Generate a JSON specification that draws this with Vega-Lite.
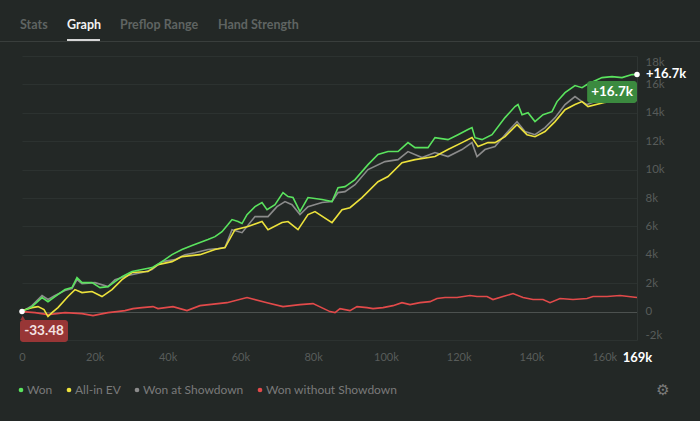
{
  "$schema": "https://vega.github.io/schema/vega-lite/v6.json",
  "width": 615,
  "height": 284,
  "autosize": "none",
  "padding": {"left": 22, "top": 56, "right": 63, "bottom": 81},
  "background": "#232826",
  "config": {
    "view": {"stroke": null},
    "font": "Lato",
    "axis": {"labelFont": "Lato"},
    "legend": {"labelFont": "Lato"}
  },
  "resolve": {"axis": {"x": "independent", "y": "independent"}},
  "datasets": {
    "results": [
      {"hands": 0, "chips": 0, "series": "Won without Showdown"},
      {"hands": 3570, "chips": -70, "series": "Won without Showdown"},
      {"hands": 7140, "chips": -210, "series": "Won without Showdown"},
      {"hands": 11820, "chips": -70, "series": "Won without Showdown"},
      {"hands": 16490, "chips": -140, "series": "Won without Showdown"},
      {"hands": 19510, "chips": -280, "series": "Won without Showdown"},
      {"hands": 23630, "chips": -70, "series": "Won without Showdown"},
      {"hands": 26110, "chips": 0, "series": "Won without Showdown"},
      {"hands": 28300, "chips": 70, "series": "Won without Showdown"},
      {"hands": 30500, "chips": 210, "series": "Won without Showdown"},
      {"hands": 32980, "chips": 280, "series": "Won without Showdown"},
      {"hands": 36000, "chips": 350, "series": "Won without Showdown"},
      {"hands": 37370, "chips": 210, "series": "Won without Showdown"},
      {"hands": 41490, "chips": 350, "series": "Won without Showdown"},
      {"hands": 45340, "chips": 70, "series": "Won without Showdown"},
      {"hands": 48910, "chips": 420, "series": "Won without Showdown"},
      {"hands": 56330, "chips": 630, "series": "Won without Showdown"},
      {"hands": 61830, "chips": 990, "series": "Won without Showdown"},
      {"hands": 67330, "chips": 630, "series": "Won without Showdown"},
      {"hands": 71720, "chips": 350, "series": "Won without Showdown"},
      {"hands": 76390, "chips": 490, "series": "Won without Showdown"},
      {"hands": 79970, "chips": 560, "series": "Won without Showdown"},
      {"hands": 84640, "chips": 0, "series": "Won without Showdown"},
      {"hands": 86010, "chips": -70, "series": "Won without Showdown"},
      {"hands": 87390, "chips": 210, "series": "Won without Showdown"},
      {"hands": 90130, "chips": 70, "series": "Won without Showdown"},
      {"hands": 92060, "chips": 350, "series": "Won without Showdown"},
      {"hands": 94810, "chips": 280, "series": "Won without Showdown"},
      {"hands": 96460, "chips": 210, "series": "Won without Showdown"},
      {"hands": 99200, "chips": 280, "series": "Won without Showdown"},
      {"hands": 101950, "chips": 420, "series": "Won without Showdown"},
      {"hands": 104420, "chips": 630, "series": "Won without Showdown"},
      {"hands": 106620, "chips": 490, "series": "Won without Showdown"},
      {"hands": 109370, "chips": 630, "series": "Won without Showdown"},
      {"hands": 112120, "chips": 700, "series": "Won without Showdown"},
      {"hands": 114040, "chips": 920, "series": "Won without Showdown"},
      {"hands": 116240, "chips": 990, "series": "Won without Showdown"},
      {"hands": 119540, "chips": 990, "series": "Won without Showdown"},
      {"hands": 123110, "chips": 1130, "series": "Won without Showdown"},
      {"hands": 125030, "chips": 1060, "series": "Won without Showdown"},
      {"hands": 127780, "chips": 1060, "series": "Won without Showdown"},
      {"hands": 129430, "chips": 850, "series": "Won without Showdown"},
      {"hands": 132180, "chips": 1060, "series": "Won without Showdown"},
      {"hands": 134930, "chips": 1270, "series": "Won without Showdown"},
      {"hands": 137680, "chips": 990, "series": "Won without Showdown"},
      {"hands": 140420, "chips": 850, "series": "Won without Showdown"},
      {"hands": 143170, "chips": 850, "series": "Won without Showdown"},
      {"hands": 145090, "chips": 630, "series": "Won without Showdown"},
      {"hands": 147840, "chips": 920, "series": "Won without Showdown"},
      {"hands": 151410, "chips": 850, "series": "Won without Showdown"},
      {"hands": 155260, "chips": 920, "series": "Won without Showdown"},
      {"hands": 156910, "chips": 1060, "series": "Won without Showdown"},
      {"hands": 160760, "chips": 1060, "series": "Won without Showdown"},
      {"hands": 164330, "chips": 1130, "series": "Won without Showdown"},
      {"hands": 169000, "chips": 990, "series": "Won without Showdown"},

      {"hands": 0, "chips": 0, "series": "Won at Showdown"},
      {"hands": 2750, "chips": 420, "series": "Won at Showdown"},
      {"hands": 5500, "chips": 1130, "series": "Won at Showdown"},
      {"hands": 7140, "chips": 850, "series": "Won at Showdown"},
      {"hands": 9070, "chips": 1130, "series": "Won at Showdown"},
      {"hands": 11820, "chips": 1480, "series": "Won at Showdown"},
      {"hands": 13740, "chips": 1620, "series": "Won at Showdown"},
      {"hands": 15110, "chips": 2250, "series": "Won at Showdown"},
      {"hands": 16490, "chips": 1970, "series": "Won at Showdown"},
      {"hands": 20060, "chips": 2040, "series": "Won at Showdown"},
      {"hands": 23630, "chips": 1760, "series": "Won at Showdown"},
      {"hands": 25560, "chips": 2250, "series": "Won at Showdown"},
      {"hands": 29130, "chips": 2540, "series": "Won at Showdown"},
      {"hands": 32980, "chips": 2750, "series": "Won at Showdown"},
      {"hands": 35720, "chips": 2960, "series": "Won at Showdown"},
      {"hands": 38470, "chips": 3520, "series": "Won at Showdown"},
      {"hands": 42040, "chips": 3660, "series": "Won at Showdown"},
      {"hands": 44790, "chips": 4010, "series": "Won at Showdown"},
      {"hands": 47540, "chips": 4150, "series": "Won at Showdown"},
      {"hands": 51110, "chips": 4370, "series": "Won at Showdown"},
      {"hands": 53860, "chips": 4440, "series": "Won at Showdown"},
      {"hands": 55780, "chips": 4510, "series": "Won at Showdown"},
      {"hands": 57710, "chips": 5770, "series": "Won at Showdown"},
      {"hands": 60460, "chips": 5560, "series": "Won at Showdown"},
      {"hands": 64030, "chips": 6690, "series": "Won at Showdown"},
      {"hands": 67600, "chips": 6690, "series": "Won at Showdown"},
      {"hands": 70070, "chips": 7390, "series": "Won at Showdown"},
      {"hands": 72270, "chips": 7750, "series": "Won at Showdown"},
      {"hands": 74200, "chips": 7530, "series": "Won at Showdown"},
      {"hands": 76390, "chips": 6830, "series": "Won at Showdown"},
      {"hands": 78590, "chips": 7390, "series": "Won at Showdown"},
      {"hands": 82440, "chips": 7680, "series": "Won at Showdown"},
      {"hands": 85190, "chips": 7750, "series": "Won at Showdown"},
      {"hands": 86840, "chips": 8380, "series": "Won at Showdown"},
      {"hands": 88760, "chips": 8450, "series": "Won at Showdown"},
      {"hands": 91510, "chips": 8940, "series": "Won at Showdown"},
      {"hands": 95080, "chips": 10000, "series": "Won at Showdown"},
      {"hands": 99750, "chips": 10560, "series": "Won at Showdown"},
      {"hands": 103330, "chips": 10700, "series": "Won at Showdown"},
      {"hands": 106070, "chips": 11270, "series": "Won at Showdown"},
      {"hands": 109920, "chips": 10850, "series": "Won at Showdown"},
      {"hands": 113490, "chips": 11200, "series": "Won at Showdown"},
      {"hands": 117060, "chips": 10920, "series": "Won at Showdown"},
      {"hands": 120910, "chips": 11410, "series": "Won at Showdown"},
      {"hands": 123660, "chips": 11900, "series": "Won at Showdown"},
      {"hands": 125030, "chips": 10920, "series": "Won at Showdown"},
      {"hands": 127230, "chips": 11410, "series": "Won at Showdown"},
      {"hands": 129980, "chips": 11620, "series": "Won at Showdown"},
      {"hands": 132730, "chips": 12460, "series": "Won at Showdown"},
      {"hands": 136030, "chips": 13380, "series": "Won at Showdown"},
      {"hands": 138220, "chips": 12680, "series": "Won at Showdown"},
      {"hands": 140970, "chips": 12460, "series": "Won at Showdown"},
      {"hands": 143720, "chips": 12960, "series": "Won at Showdown"},
      {"hands": 146470, "chips": 13660, "series": "Won at Showdown"},
      {"hands": 149220, "chips": 14580, "series": "Won at Showdown"},
      {"hands": 151960, "chips": 15140, "series": "Won at Showdown"},
      {"hands": 153890, "chips": 14790, "series": "Won at Showdown"},
      {"hands": 155260, "chips": 14580, "series": "Won at Showdown"},
      {"hands": 158830, "chips": 14930, "series": "Won at Showdown"},
      {"hands": 162960, "chips": 15070, "series": "Won at Showdown"},
      {"hands": 169000, "chips": 15210, "series": "Won at Showdown"},

      {"hands": 0, "chips": 0, "series": "All-in EV"},
      {"hands": 820, "chips": 140, "series": "All-in EV"},
      {"hands": 2750, "chips": 280, "series": "All-in EV"},
      {"hands": 4400, "chips": 350, "series": "All-in EV"},
      {"hands": 6050, "chips": 140, "series": "All-in EV"},
      {"hands": 7140, "chips": -350, "series": "All-in EV"},
      {"hands": 8240, "chips": -70, "series": "All-in EV"},
      {"hands": 9890, "chips": 280, "series": "All-in EV"},
      {"hands": 12640, "chips": 1060, "series": "All-in EV"},
      {"hands": 14560, "chips": 1550, "series": "All-in EV"},
      {"hands": 16490, "chips": 1340, "series": "All-in EV"},
      {"hands": 19240, "chips": 1410, "series": "All-in EV"},
      {"hands": 21980, "chips": 1060, "series": "All-in EV"},
      {"hands": 24730, "chips": 1550, "series": "All-in EV"},
      {"hands": 27480, "chips": 2250, "series": "All-in EV"},
      {"hands": 30230, "chips": 2750, "series": "All-in EV"},
      {"hands": 34620, "chips": 2820, "series": "All-in EV"},
      {"hands": 37370, "chips": 3310, "series": "All-in EV"},
      {"hands": 41220, "chips": 3520, "series": "All-in EV"},
      {"hands": 43970, "chips": 3870, "series": "All-in EV"},
      {"hands": 48910, "chips": 4010, "series": "All-in EV"},
      {"hands": 53040, "chips": 4370, "series": "All-in EV"},
      {"hands": 55780, "chips": 4510, "series": "All-in EV"},
      {"hands": 58530, "chips": 5770, "series": "All-in EV"},
      {"hands": 62100, "chips": 5990, "series": "All-in EV"},
      {"hands": 65950, "chips": 6340, "series": "All-in EV"},
      {"hands": 67600, "chips": 5770, "series": "All-in EV"},
      {"hands": 71450, "chips": 6270, "series": "All-in EV"},
      {"hands": 73100, "chips": 6340, "series": "All-in EV"},
      {"hands": 75850, "chips": 5770, "series": "All-in EV"},
      {"hands": 78590, "chips": 6830, "series": "All-in EV"},
      {"hands": 80520, "chips": 7040, "series": "All-in EV"},
      {"hands": 85190, "chips": 6270, "series": "All-in EV"},
      {"hands": 87940, "chips": 7180, "series": "All-in EV"},
      {"hands": 90130, "chips": 7320, "series": "All-in EV"},
      {"hands": 93430, "chips": 8030, "series": "All-in EV"},
      {"hands": 97830, "chips": 9150, "series": "All-in EV"},
      {"hands": 100580, "chips": 9510, "series": "All-in EV"},
      {"hands": 104420, "chips": 10490, "series": "All-in EV"},
      {"hands": 108000, "chips": 10700, "series": "All-in EV"},
      {"hands": 113490, "chips": 10920, "series": "All-in EV"},
      {"hands": 117060, "chips": 11410, "series": "All-in EV"},
      {"hands": 120910, "chips": 11900, "series": "All-in EV"},
      {"hands": 123660, "chips": 12250, "series": "All-in EV"},
      {"hands": 125310, "chips": 11620, "series": "All-in EV"},
      {"hands": 128060, "chips": 11900, "series": "All-in EV"},
      {"hands": 129980, "chips": 11900, "series": "All-in EV"},
      {"hands": 132730, "chips": 12320, "series": "All-in EV"},
      {"hands": 136030, "chips": 13170, "series": "All-in EV"},
      {"hands": 138770, "chips": 12460, "series": "All-in EV"},
      {"hands": 140970, "chips": 12320, "series": "All-in EV"},
      {"hands": 143720, "chips": 12680, "series": "All-in EV"},
      {"hands": 146470, "chips": 13380, "series": "All-in EV"},
      {"hands": 149220, "chips": 14220, "series": "All-in EV"},
      {"hands": 151960, "chips": 14580, "series": "All-in EV"},
      {"hands": 153890, "chips": 14790, "series": "All-in EV"},
      {"hands": 155540, "chips": 14440, "series": "All-in EV"},
      {"hands": 160000, "chips": 14720, "series": "All-in EV"},
      {"hands": 164330, "chips": 14860, "series": "All-in EV"},
      {"hands": 169000, "chips": 14930, "series": "All-in EV"},

      {"hands": 0, "chips": 0, "series": "Won"},
      {"hands": 2750, "chips": 350, "series": "Won"},
      {"hands": 5500, "chips": 990, "series": "Won"},
      {"hands": 7140, "chips": 700, "series": "Won"},
      {"hands": 9070, "chips": 1060, "series": "Won"},
      {"hands": 11820, "chips": 1550, "series": "Won"},
      {"hands": 13740, "chips": 1690, "series": "Won"},
      {"hands": 15110, "chips": 2390, "series": "Won"},
      {"hands": 16490, "chips": 2040, "series": "Won"},
      {"hands": 19240, "chips": 2040, "series": "Won"},
      {"hands": 21430, "chips": 1690, "series": "Won"},
      {"hands": 23630, "chips": 1760, "series": "Won"},
      {"hands": 25560, "chips": 2110, "series": "Won"},
      {"hands": 27480, "chips": 2460, "series": "Won"},
      {"hands": 30230, "chips": 2820, "series": "Won"},
      {"hands": 32980, "chips": 2960, "series": "Won"},
      {"hands": 35720, "chips": 3100, "series": "Won"},
      {"hands": 38470, "chips": 3520, "series": "Won"},
      {"hands": 41220, "chips": 4010, "series": "Won"},
      {"hands": 43970, "chips": 4370, "series": "Won"},
      {"hands": 46720, "chips": 4650, "series": "Won"},
      {"hands": 48910, "chips": 4860, "series": "Won"},
      {"hands": 51110, "chips": 5070, "series": "Won"},
      {"hands": 53040, "chips": 5280, "series": "Won"},
      {"hands": 54960, "chips": 5630, "series": "Won"},
      {"hands": 56610, "chips": 6130, "series": "Won"},
      {"hands": 57710, "chips": 6480, "series": "Won"},
      {"hands": 59360, "chips": 6340, "series": "Won"},
      {"hands": 60460, "chips": 6200, "series": "Won"},
      {"hands": 61830, "chips": 6830, "series": "Won"},
      {"hands": 64030, "chips": 7390, "series": "Won"},
      {"hands": 65950, "chips": 7680, "series": "Won"},
      {"hands": 67330, "chips": 7180, "series": "Won"},
      {"hands": 69520, "chips": 7530, "series": "Won"},
      {"hands": 71720, "chips": 8380, "series": "Won"},
      {"hands": 73100, "chips": 8100, "series": "Won"},
      {"hands": 74470, "chips": 8030, "series": "Won"},
      {"hands": 76390, "chips": 7040, "series": "Won"},
      {"hands": 78590, "chips": 8030, "series": "Won"},
      {"hands": 82440, "chips": 7890, "series": "Won"},
      {"hands": 85190, "chips": 7750, "series": "Won"},
      {"hands": 86840, "chips": 8730, "series": "Won"},
      {"hands": 88760, "chips": 8800, "series": "Won"},
      {"hands": 89580, "chips": 8940, "series": "Won"},
      {"hands": 91510, "chips": 9300, "series": "Won"},
      {"hands": 95080, "chips": 10350, "series": "Won"},
      {"hands": 97830, "chips": 11060, "series": "Won"},
      {"hands": 100580, "chips": 11270, "series": "Won"},
      {"hands": 103330, "chips": 11270, "series": "Won"},
      {"hands": 106070, "chips": 11900, "series": "Won"},
      {"hands": 108000, "chips": 11550, "series": "Won"},
      {"hands": 111570, "chips": 11550, "series": "Won"},
      {"hands": 113490, "chips": 12250, "series": "Won"},
      {"hands": 117060, "chips": 12110, "series": "Won"},
      {"hands": 119810, "chips": 12460, "series": "Won"},
      {"hands": 122560, "chips": 12820, "series": "Won"},
      {"hands": 123660, "chips": 12960, "series": "Won"},
      {"hands": 124480, "chips": 12250, "series": "Won"},
      {"hands": 126410, "chips": 12110, "series": "Won"},
      {"hands": 129160, "chips": 12460, "series": "Won"},
      {"hands": 132730, "chips": 13660, "series": "Won"},
      {"hands": 135480, "chips": 14440, "series": "Won"},
      {"hands": 136300, "chips": 14580, "series": "Won"},
      {"hands": 137400, "chips": 13870, "series": "Won"},
      {"hands": 139050, "chips": 14010, "series": "Won"},
      {"hands": 140970, "chips": 13380, "series": "Won"},
      {"hands": 143170, "chips": 13870, "series": "Won"},
      {"hands": 145640, "chips": 14080, "series": "Won"},
      {"hands": 147020, "chips": 14790, "series": "Won"},
      {"hands": 149220, "chips": 15420, "series": "Won"},
      {"hands": 151960, "chips": 15920, "series": "Won"},
      {"hands": 153890, "chips": 15770, "series": "Won"},
      {"hands": 155260, "chips": 15990, "series": "Won"},
      {"hands": 159380, "chips": 16480, "series": "Won"},
      {"hands": 162130, "chips": 16550, "series": "Won"},
      {"hands": 164880, "chips": 16480, "series": "Won"},
      {"hands": 167630, "chips": 16690, "series": "Won"},
      {"hands": 169000, "chips": 16700, "series": "Won"}
    ],
    "one": [{}]
  },
  "layer": [
    {
      "data": {"name": "results"},
      "mark": {"type": "line", "strokeWidth": 1.6, "clip": false},
      "encoding": {
        "x": {
          "field": "hands",
          "type": "quantitative",
          "scale": {"domain": [0, 169000], "nice": false, "zero": false},
          "axis": {
            "title": null,
            "grid": false,
            "domain": false,
            "ticks": false,
            "values": [0, 20000, 40000, 60000, 80000, 100000, 120000, 140000, 160000, 169000],
            "labelExpr": "datum.value == 0 ? '0' : round(datum.value / 1000) + 'k'",
            "labelFlush": false,
            "labelOverlap": false,
            "labelPadding": 11,
            "labelFontSize": {"condition": {"test": "datum.value == 169000", "value": 13}, "value": 11},
            "labelFontWeight": {"condition": {"test": "datum.value == 169000", "value": "bold"}, "value": "normal"},
            "labelColor": {"condition": {"test": "datum.value == 169000", "value": "#ffffff"}, "value": "#585c5a"}
          }
        },
        "y": {
          "field": "chips",
          "type": "quantitative",
          "scale": {"domain": [-2000, 18000], "nice": false},
          "axis": {
            "title": null,
            "orient": "right",
            "values": [-2000, 0, 2000, 4000, 6000, 8000, 10000, 12000, 14000, 16000, 18000],
            "labelExpr": "datum.value == 0 ? '0' : (datum.value / 1000) + 'k'",
            "labelFlush": true,
            "labelOverlap": false,
            "labelPadding": 8,
            "labelFontSize": 11.5,
            "labelColor": "#585c5a",
            "ticks": false,
            "domain": true,
            "domainColor": "#2f3533",
            "grid": true,
            "gridColor": {"condition": {"test": "datum.value === 0", "value": "#4c514f"}, "value": "#2c3230"}
          }
        },
        "color": {
          "field": "series",
          "type": "nominal",
          "scale": {
            "domain": ["Won", "All-in EV", "Won at Showdown", "Won without Showdown"],
            "range": ["#5ae35e", "#ece23c", "#8b8b8b", "#e24a4a"]
          },
          "legend": {
            "title": null,
            "orient": "none",
            "direction": "horizontal",
            "legendX": -7,
            "legendY": 328,
            "symbolType": "circle",
            "symbolSize": 22,
            "labelOffset": 0,
            "columnPadding": 10,
            "labelFontSize": 12,
            "labelColor": "#7a7a7a",
            "encode": {
              "symbols": {
                "update": {
                  "fill": {"scale": "color", "field": "value"},
                  "strokeWidth": {"value": 0}
                }
              }
            }
          }
        }
      }
    },
    {
      "data": {"name": "one"},
      "mark": {"type": "rule", "color": "#393e3c", "strokeWidth": 1},
      "encoding": {
        "x": {"datum": -6050, "type": "quantitative", "axis": null},
        "x2": {"datum": 186300},
        "y": {"datum": 19021, "type": "quantitative", "axis": null}
      }
    },
    {
      "data": {"name": "one"},
      "mark": {"type": "rule", "color": "#d6d6d6", "strokeWidth": 2},
      "encoding": {
        "x": {"datum": 12370, "type": "quantitative", "axis": null},
        "x2": {"datum": 21430},
        "y": {"datum": 19127, "type": "quantitative", "axis": null}
      }
    },
    {
      "data": {"name": "one"},
      "mark": {"type": "text", "text": "Stats", "align": "left", "baseline": "middle", "fontSize": 12.5, "fontWeight": "bold", "color": "#5f6462"},
      "encoding": {"x": {"datum": -550, "type": "quantitative", "axis": null}, "y": {"datum": 20183, "type": "quantitative", "axis": null}}
    },
    {
      "data": {"name": "one"},
      "mark": {"type": "text", "text": "Graph", "align": "left", "baseline": "middle", "fontSize": 12.5, "fontWeight": "bold", "color": "#f2f2f2"},
      "encoding": {"x": {"datum": 12370, "type": "quantitative", "axis": null}, "y": {"datum": 20183, "type": "quantitative", "axis": null}}
    },
    {
      "data": {"name": "one"},
      "mark": {"type": "text", "text": "Preflop Range", "align": "left", "baseline": "middle", "fontSize": 12.5, "fontWeight": "bold", "color": "#5f6462"},
      "encoding": {"x": {"datum": 26930, "type": "quantitative", "axis": null}, "y": {"datum": 20183, "type": "quantitative", "axis": null}}
    },
    {
      "data": {"name": "one"},
      "mark": {"type": "text", "text": "Hand Strength", "align": "left", "baseline": "middle", "fontSize": 12.5, "fontWeight": "bold", "color": "#5f6462"},
      "encoding": {"x": {"datum": 53860, "type": "quantitative", "axis": null}, "y": {"datum": 20183, "type": "quantitative", "axis": null}}
    },
    {
      "data": {"name": "one"},
      "mark": {"type": "point", "filled": true, "color": "#ffffff", "size": 30, "opacity": 1},
      "encoding": {"x": {"datum": 0, "type": "quantitative", "axis": null}, "y": {"datum": 0, "type": "quantitative", "axis": null}}
    },
    {
      "data": {"name": "one"},
      "mark": {"type": "point", "filled": true, "color": "#ffffff", "size": 30, "opacity": 1},
      "encoding": {"x": {"datum": 169000, "type": "quantitative", "axis": null}, "y": {"datum": 16700, "type": "quantitative", "axis": null}}
    },
    {
      "data": {"name": "one"},
      "mark": {"type": "text", "text": "+16.7k", "align": "left", "baseline": "middle", "dx": 9, "fontSize": 13, "fontWeight": "bold", "color": "#ffffff"},
      "encoding": {"x": {"datum": 169000, "type": "quantitative", "axis": null}, "y": {"datum": 16700, "type": "quantitative", "axis": null}}
    },
    {
      "data": {"name": "one"},
      "mark": {"type": "rect", "color": "#3b8a3f", "cornerRadius": 3},
      "encoding": {
        "x": {"datum": 155300, "type": "quantitative", "axis": null},
        "x2": {"datum": 169000},
        "y": {"datum": 16240, "type": "quantitative", "axis": null},
        "y2": {"datum": 14690}
      }
    },
    {
      "data": {"name": "one"},
      "mark": {"type": "text", "text": "+16.7k", "align": "center", "baseline": "middle", "fontSize": 13.5, "fontWeight": "bold", "color": "#ffffff"},
      "encoding": {"x": {"datum": 162150, "type": "quantitative", "axis": null}, "y": {"datum": 15465, "type": "quantitative", "axis": null}}
    },
    {
      "data": {"name": "one"},
      "mark": {"type": "point", "shape": "triangle-up", "filled": true, "color": "#983636", "size": 24, "opacity": 1},
      "encoding": {"x": {"datum": 200, "type": "quantitative", "axis": null}, "y": {"datum": -450, "type": "quantitative", "axis": null}}
    },
    {
      "data": {"name": "one"},
      "mark": {"type": "rect", "color": "#983636", "cornerRadius": 3},
      "encoding": {
        "x": {"datum": -550, "type": "quantitative", "axis": null},
        "x2": {"datum": 12640},
        "y": {"datum": -590, "type": "quantitative", "axis": null},
        "y2": {"datum": -2140}
      }
    },
    {
      "data": {"name": "one"},
      "mark": {"type": "text", "text": "-33.48", "align": "center", "baseline": "middle", "fontSize": 13.5, "fontWeight": "bold", "color": "#f4e2e2"},
      "encoding": {"x": {"datum": 6050, "type": "quantitative", "axis": null}, "y": {"datum": -1366, "type": "quantitative", "axis": null}}
    },
    {
      "data": {"name": "one"},
      "mark": {"type": "text", "text": "⚙", "font": "DejaVu Sans", "align": "center", "baseline": "middle", "fontSize": 15, "color": "#7b7b7b"},
      "encoding": {"x": {"datum": 176150, "type": "quantitative", "axis": null}, "y": {"datum": -5521, "type": "quantitative", "axis": null}}
    }
  ]
}
